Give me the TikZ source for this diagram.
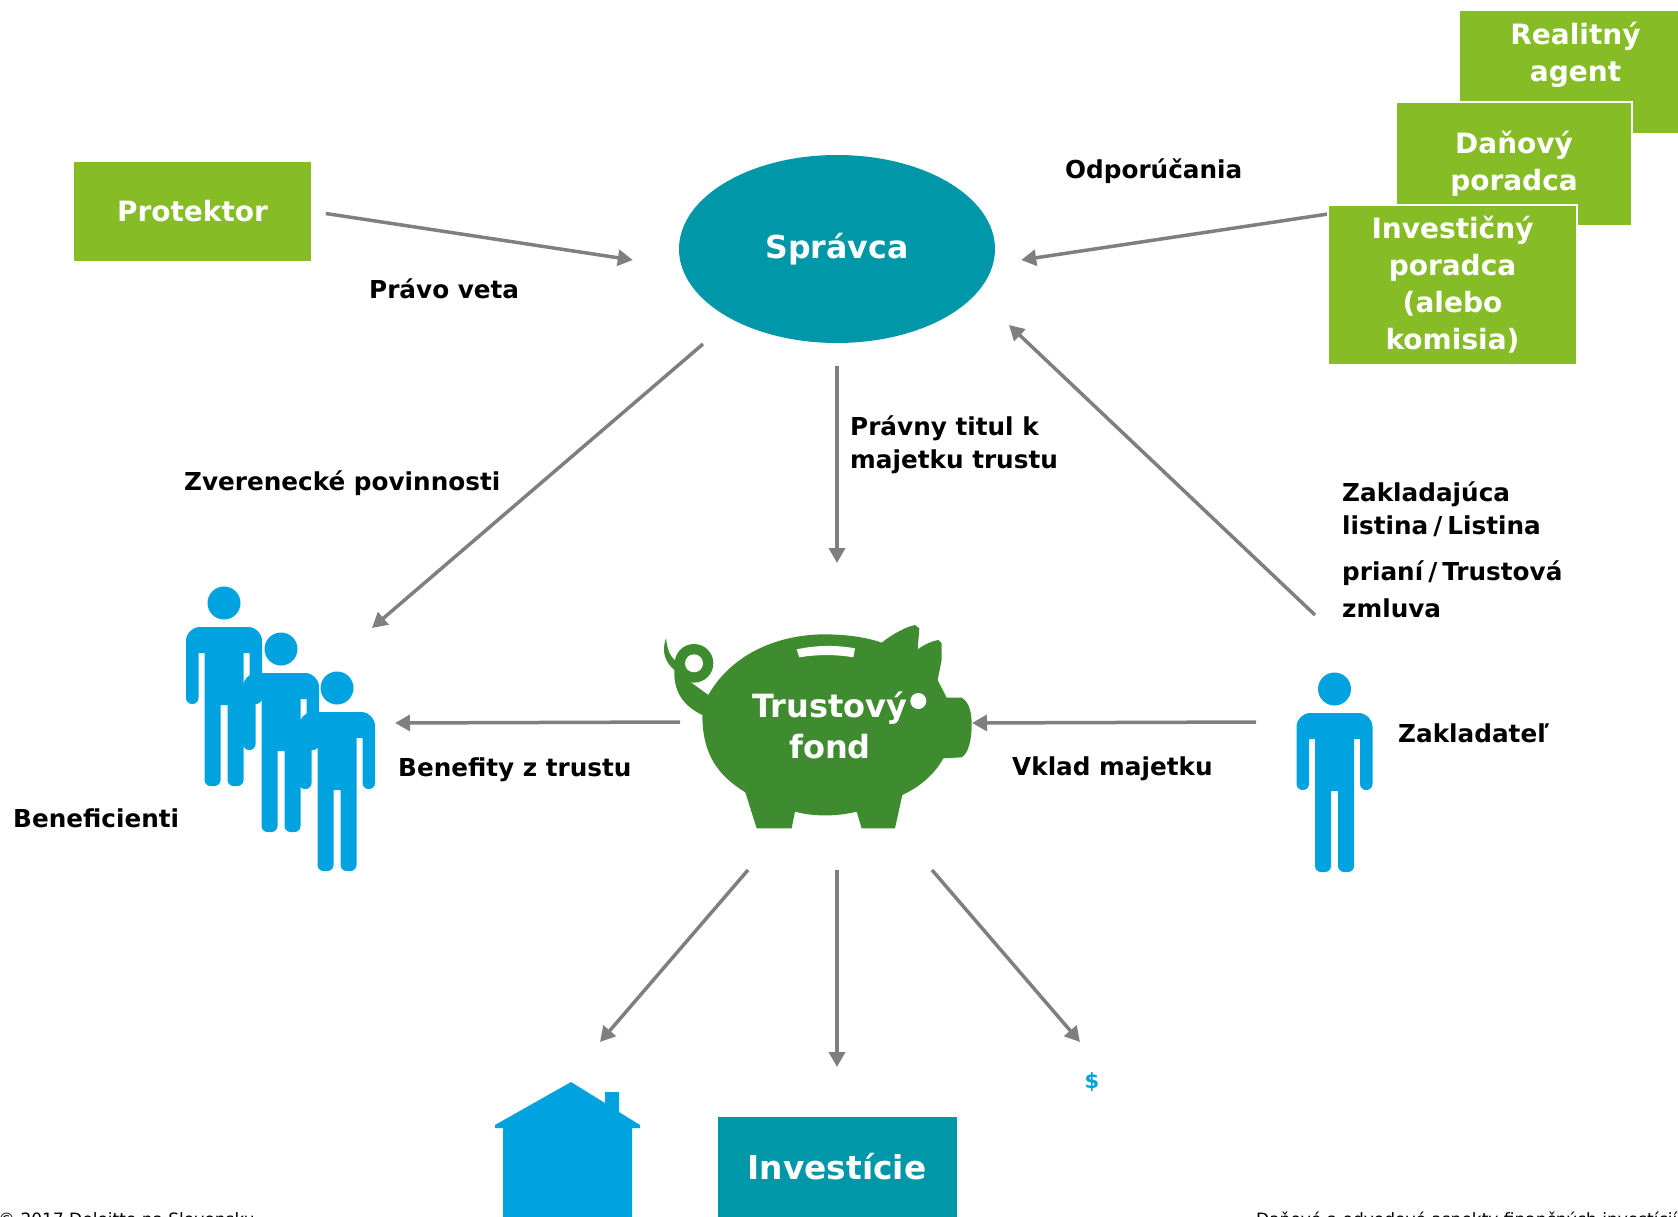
\documentclass[tikz,border=0pt]{standalone}
\usepackage{fontspec}
\setmainfont{DejaVu Sans}
\usetikzlibrary{shapes.geometric,arrows.meta}
\definecolor{zelena}{HTML}{86BC25}
\definecolor{tyrkys}{HTML}{0097A9}
\definecolor{modra}{HTML}{00A3E0}
\definecolor{prasa}{HTML}{3F8B2F}
\definecolor{sipka}{HTML}{7F7F7F}
\tikzset{
  krabica/.style={fill=zelena,draw=white,line width=1.5pt,text=white,inner sep=0pt,align=center,
    font=\fontsize{28}{37}\selectfont\bfseries},
  modrak/.style={fill=tyrkys,text=white,inner sep=0pt,font=\fontsize{32.8}{37}\selectfont\bfseries},
  popis/.style={anchor=west,inner sep=0pt,align=left,font=\fontsize{24.7}{33}\selectfont\bfseries},
  spodok/.style={anchor=north west,inner sep=0pt,font=\fontsize{17}{21}\selectfont},
  zona/.style={inner sep=0pt,minimum width=#1,minimum height=190pt},
  arr/.style={line width=3.5pt,draw=sipka,-{Triangle[length=15pt,width=16pt]}},
  postava/.pic={
    \fill[modra] (0,0) circle (16.5);
    \fill[modra] (-25.5,50) [rounded corners=6pt] -- (-25.5,101) -- (-38,101) [rounded corners=14pt] -- (-38,24) -- (38,24)
      [rounded corners=6pt] -- (38,101) -- (25.5,101) [sharp corners] -- (25.5,50) -- (19.5,50)
      [rounded corners=6pt] -- (19.5,183) -- (3.5,183) [sharp corners] -- (3.5,102) -- (-3.5,102)
      [rounded corners=6pt] -- (-3.5,183) -- (-19.5,183) [sharp corners] -- (-19.5,50) -- cycle;
  },
  prasiatko/.pic={
    \fill[prasa] (205,285) .. controls (270,170) and (400,105) .. (550,103) .. controls (620,103) and (680,112) .. (725,128)
      .. controls (760,100) and (800,80) .. (825,75) -- (838,85) -- (833,148) .. controls (855,132) and (880,122) .. (895,120)
      -- (905,130) -- (905,180) -- (893,240) -- (920,293) -- (965,293) .. controls (985,305) and (995,330) .. (995,375)
      .. controls (995,420) and (985,460) .. (965,472) -- (910,475) .. controls (880,530) and (830,565) .. (787,585)
      -- (765,685) -- (665,685) -- (650,635) .. controls (590,650) and (520,650) .. (465,635) -- (455,685) -- (350,685)
      -- (316,577) .. controls (240,530) and (187,470) .. (187,345) .. controls (135,320) and (100,280) .. (103,210)
      .. controls (80,190) and (62,160) .. (78,115) .. controls (82,150) and (90,170) .. (110,185)
      -- (150,245) -- cycle;
    \fill[prasa] (162,190) circle (58);
    \fill[white] (162,190) circle (27);
    \fill[white] (470,148) .. controls (530,135) and (590,135) .. (645,145) -- (640,172) .. controls (590,163) and (530,163) .. (478,172) -- cycle;
    \fill[white] (835,303) circle (24);
  },
  domcek/.pic={
    \fill[modra] (571,1082) -- (605,1103) -- (605,1092) -- (619,1092) -- (619,1112) -- (640,1125) -- (640,1128) -- (632,1128) -- (632,1217)
      -- (503,1217) -- (503,1128) -- (495,1128) -- (495,1125) -- cycle;
  }
}
\begin{document}
\begin{tikzpicture}[x=1pt,y=-1pt]
	\path[use as bounding box,clip] (0,0) rectangle (1678,1217);

	\node[krabica,draw=none,minimum width=237pt,minimum height=99pt] (protektor) at (192.5,211.5) {Protektor};
	\node[fill=tyrkys,ellipse,minimum width=316pt,minimum height=188pt,inner sep=0pt,text=white,font=\fontsize{31.6}{37}\selectfont\bfseries] (spravca) at (837,249) {Správca};

	\node[krabica,minimum width=233pt,minimum height=124pt] (realitny) at (1575.5,72) {Realitný\\agent\\[4pt]\mbox{}};
	\node[krabica,minimum width=236pt,minimum height=124pt] (danovy) at (1514,164) {Daňový\\poradca};
	\coordinate (radca) at (1328,214);
	\draw[arr] (radca) -- ([shift={(26,11)}]spravca.east);
	\node[krabica,minimum width=249pt,minimum height=160pt] (investicny) at (1452.5,285) {Investičný\\poradca\\(alebo\\komisia)};

	\pic at (224,603) {postava};
	\pic at (281,649) {postava};
	\pic at (337,688) {postava};
	\pic at (1334.5,689) {postava};
	\node[zona=170pt] (beneficienti) at (280,740) {};
	\node[zona=76pt] (zakladatel) at (1334,780) {};

	\pic[scale=1/3] at (640,600) {prasiatko};
	\node[anchor=center,inner sep=0pt,align=center,text=white,font=\fontsize{32}{41}\selectfont\bfseries] (trust) at (830,725) {Trustový\\fond};

	\pic at (0,0) {domcek};
	\node[zona=137pt] (dom) at (571,1150) {};
	\node[modrak,minimum width=239pt,minimum height=100pt] (investicie) at (837,1167) {Investície};
	\node[inner sep=0pt,text=modra,font=\fontsize{21}{24}\selectfont\bfseries] (dolar) at (1092,1082) {\$};

	\node[popis] (odporucania) at (1065,171) {Odporúčania};
	\node[popis] (pravoveta) at (369,289) {Právo veta};
	\node[popis] (titul) at (850,445) {Právny titul k\\majetku trustu};
	\node[popis] (povinnosti) at (184,483) {Zverenecké povinnosti};
	\node[popis] (listina) at (1342,509) {Zakladajúca\\listina\kern5pt/\kern5pt Listina};
	\node[popis,font=\fontsize{24.7}{37}\selectfont\bfseries] (prianie) at (1342,589) {prianí\kern5pt/\kern5pt Trustová\\zmluva};
	\node[popis] (zakladatelt) at (1398,733) {Zakladateľ};
	\node[popis] (benefnazov) at (13,818) {Beneficienti};
	\node[popis] (benefity) at (398,770) {Benefity z trustu};
	\node[popis] (vklad) at (1012,769) {Vklad majetku};

	\node[spodok] (copy) at (-2,1212) {© 2017 Deloitte na Slovensku};
	\node[spodok] (nazov) at (1256,1212) {Daňové a odvodové aspekty finančných investícií};

	\draw[arr] ([shift={(14,2)}]protektor.east) -- ([shift={(-46,11)}]spravca.west);
	\draw[arr] ([shift={(-134,95)}]spravca.center) -- ([shift={(92,-112)}]beneficienti.center);
	\draw[arr] ([shift={(0,23)}]spravca.south) -- ([shift={(7,-162)}]trust.center);
	\draw[arr] ([shift={(-19,-165)}]zakladatel.center) -- ([shift={(172,76)}]spravca.center);
	\draw[arr] ([shift={(-150,-3)}]trust.center) -- ([shift={(115,-17)}]beneficienti.center);
	\draw[arr] ([shift={(-78,-58)}]zakladatel.center) -- ([shift={(142,-2)}]trust.center);
	\draw[arr] ([shift={(-82,145)}]trust.center) -- ([shift={(29,-108)}]dom.center);
	\draw[arr] ([shift={(7,145)}]trust.center) -- ([shift={(0,-100)}]investicie.center);
	\draw[arr] ([shift={(102,145)}]trust.center) -- ([shift={(-12,-40)}]dolar.center);
\end{tikzpicture}
\end{document}
